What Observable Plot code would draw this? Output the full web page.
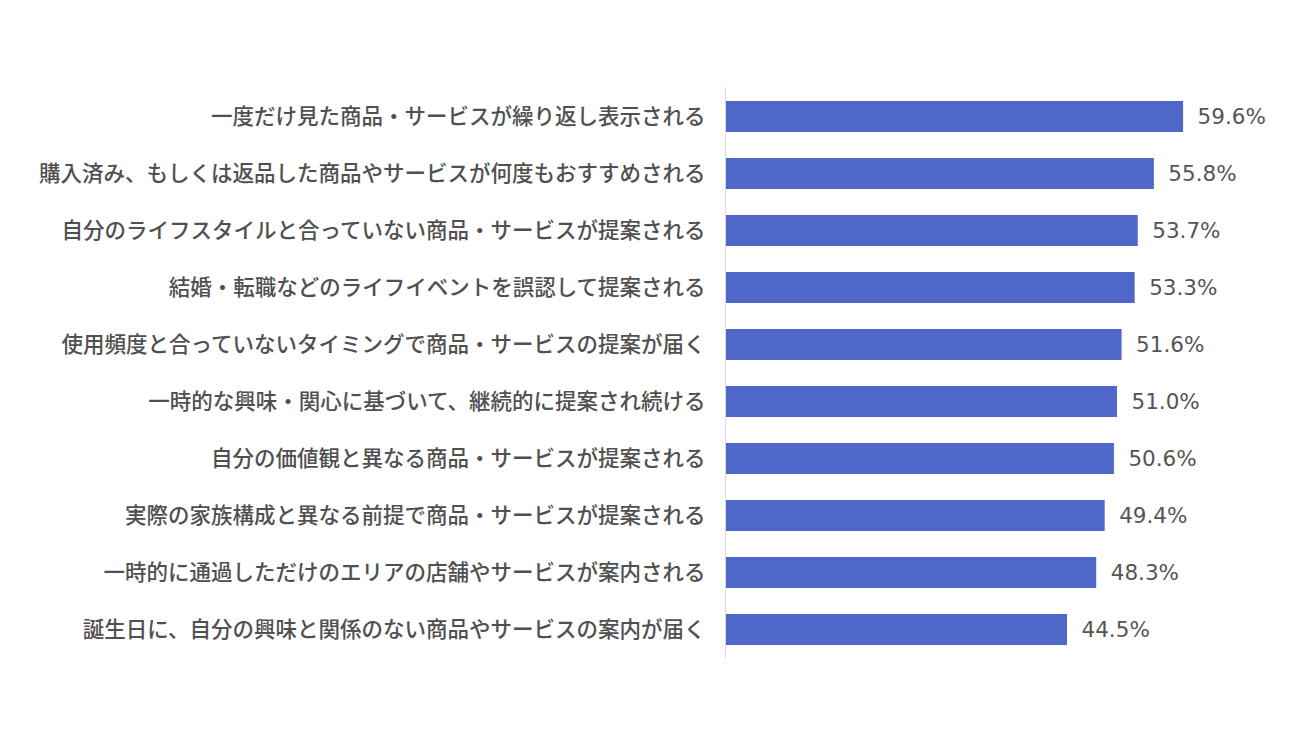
<!DOCTYPE html>
<html>
<head>
<meta charset="utf-8">
<script src="https://cdn.jsdelivr.net/npm/d3@7"></script>
<script src="https://cdn.jsdelivr.net/npm/@observablehq/plot@0.6"></script>
<style>
  html, body { margin: 0; padding: 0; background: #fff; }
  #chart { width: 1300px; height: 750px; }
</style>
</head>
<body>
<div id="chart"></div>
<script>
const categories = [
  "一度だけ見た商品・サービスが繰り返し表示される",
  "購入済み、もしくは返品した商品やサービスが何度もおすすめされる",
  "自分のライフスタイルと合っていない商品・サービスが提案される",
  "結婚・転職などのライフイベントを誤認して提案される",
  "使用頻度と合っていないタイミングで商品・サービスの提案が届く",
  "一時的な興味・関心に基づいて、継続的に提案され続ける",
  "自分の価値観と異なる商品・サービスが提案される",
  "実際の家族構成と異なる前提で商品・サービスが提案される",
  "一時的に通過しただけのエリアの店舗やサービスが案内される",
  "誕生日に、自分の興味と関係のない商品やサービスの案内が届く"
];
const values = [59.6, 55.8, 53.7, 53.3, 51.6, 51.0, 50.6, 49.4, 48.3, 44.5];

const data = categories.map((c, i) => ({category: c, value: values[i]}));

const font = "'Noto Sans CJK JP', 'Noto Sans', sans-serif";

const chart = Plot.plot({
  width: 1300,
  height: 750,
  marginTop: 87,
  marginBottom: 92,
  marginLeft: 725,
  marginRight: 37,
  style: {fontFamily: font, background: "#fff"},
  x: {domain: [0, 70], axis: null},
  y: {domain: categories, padding: 0.457, paddingOuter: 0.2285, axis: null},
  marks: [
    Plot.barX(data, {x: "value", y: "category", fill: "#4E67C8"}),
    Plot.ruleX([0], {stroke: "#d9d9d9", strokeWidth: 1}),
    Plot.text(data, {
      x: 0, y: "category", text: "category",
      textAnchor: "end", dx: -20, fontSize: 21.5, fontWeight: 500, fill: "#505050"
    }),
    Plot.text(data, {
      x: "value", y: "category", text: d => d.value.toFixed(1) + "%",
      textAnchor: "start", dx: 14, fontSize: 21.5, fill: "#555555",
      fontFamily: "'DejaVu Sans', sans-serif"
    })
  ]
});
document.getElementById("chart").appendChild(chart);
</script>
</body>
</html>
